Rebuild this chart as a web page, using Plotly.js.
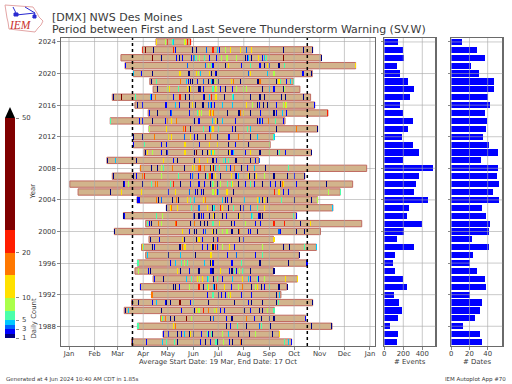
<!DOCTYPE html>
<html><head><meta charset="utf-8">
<script src="https://cdn.plot.ly/plotly-3.0.1.min.js"></script>
<style>html,body{margin:0;padding:0;background:#fff}#c{width:512px;height:384px}</style></head>
<body><div id="c"></div>
<script>
const years=[2024,2023,2022,2021,2020,2019,2018,2017,2016,2015,2014,2013,2012,2011,2010,2009,2008,2007,2006,2005,2004,2003,2002,2001,2000,1999,1998,1997,1996,1995,1994,1993,1992,1991,1990,1989,1988,1987,1986];
const firstDay=[106.5,90,64,69,79,99,103,53.5,81,97,51,98,79,79,92,47,87.5,53.5,2,12,83.5,119,67,94,56,98,89,94,84,81,103,87.5,101,77,68,112,84,115,77];
const lastDay=[148.6,296.5,307,348.6,296,273,281,294,299,315,263,302.6,250,245,295,231,362,287,345,330,302.6,321,277,356,306,249,301,280,290,249,278,265,258,296.5,250,288,320,256,271];
const eventTotals=[144,196,203,133,165,249,312,270,165,196,302,249,186,302,365,196,512,365,333,312,460,260,239,396,207,133,312,112,91,112,196,239,102,154,186,144,60,144,133];
const dateTotals=[12,28,37,22,30,47,47,40,43,37,39,38,35,41,51,33,51,50,53,46,53,34,38,43,41,23,41,24,21,28,37,38,21,34,32,26,13,32,34];
const countEdges=[1,2,3,4,5,7,10,15,20,25,50];
const countColors=['#000080','#0000ff','#0064ff','#00c8ff','#4affaa','#aaff4a','#ffe100','#ff7800','#ff1e00','#800000'];
const monthDays=[1,32,60,91,121,152,182,213,244,274,305,335,366];
const monthNames=['Jan','Feb','Mar','Apr','May','Jun','Jul','Aug','Sep','Oct','Nov','Dec','Jan'];
const yearTicks=[1988,1992,1996,2000,2004,2008,2012,2016,2020,2024];
const countTicks=[1,3,5,10,20,50];
const eventTicks=[0,200,400];
const dateTicks=[0,20,40];
const averageDays=[78,290];
const e2024=[[107,12],[117,8],[120,22],[126,6],[127,4],[140,8],[142,12],[144,22],[148,22]];
const e2023=[[90,22],[93,30],[103,1],[127,22],[129,2],[150,1],[155,1],[167,3],[175,22],[180,4],[183,2],[190,8],[196,12],[208,12],[216,3],[222,12],[261,1],[285,1],[296,1]];
const e2022=[[102,30],[112,1],[131,2],[134,1],[138,2],[149,2],[151,1],[153,4],[155,6],[159,8],[165,6],[171,2],[179,2],[185,8],[192,8],[204,8],[214,1],[217,2],[218,4],[222,1],[230,12],[235,2],[238,4],[240,6],[260,30],[307,1]];
const e2021=[[69,2],[144,3],[166,3],[170,8],[173,6],[175,2],[190,1],[194,12],[210,2],[220,6],[232,2],[237,1],[241,12],[244,2],[255,1],[262,6],[348,12]];
const e2020=[[79,4],[88,2],[102,1],[135,12],[145,1],[147,1],[155,12],[157,8],[160,4],[171,12],[173,1],[178,2],[179,1],[218,3],[221,12],[241,4],[249,8],[284,2],[285,2],[295,1]];
const e2019=[[100,1],[107,6],[136,17],[143,4],[145,2],[148,1],[150,1],[156,2],[164,3],[169,1],[175,1],[178,8],[173,4],[182,1],[197,12],[200,17],[208,1],[229,1],[230,1],[232,17],[252,1],[255,12],[257,6],[264,2],[269,4],[273,6]];
const e2018=[[108,1],[120,8],[122,12],[133,6],[144,12],[147,1],[148,12],[158,1],[160,1],[164,2],[176,6],[179,8],[175,6],[178,12],[184,2],[190,1],[199,2],[204,8],[212,8],[216,8],[235,1],[243,6],[244,4],[249,2],[260,1],[262,8]];
const e2017=[[54,1],[64,30],[81,6],[99,4],[100,2],[105,17],[127,2],[135,22],[142,1],[147,1],[163,2],[165,1],[171,4],[173,22],[178,12],[179,12],[189,1],[199,6],[200,4],[221,1],[231,6],[232,1],[238,1],[258,1],[263,1],[285,1]];
const e2016=[[83,1],[90,2],[118,2],[130,4],[134,2],[146,1],[150,12],[154,1],[162,1],[164,1],[169,3],[172,4],[177,2],[173,2],[187,4],[199,4],[216,12],[223,8],[229,1],[231,2],[236,1],[241,1],[252,2],[260,8],[263,12],[264,8],[298,2]];
const e2015=[[98,2],[108,1],[123,2],[125,3],[146,2],[156,6],[159,12],[161,8],[171,12],[175,17],[172,17],[174,12],[193,1],[206,1],[207,1],[208,17],[212,12],[220,2],[221,1],[233,2],[249,1],[252,2],[259,4],[264,2],[314,22]];
const e2014=[[51,6],[86,2],[90,2],[102,1],[117,2],[120,17],[125,12],[131,17],[152,1],[158,2],[174,4],[178,12],[180,1],[187,4],[202,2],[229,1],[232,2],[233,3],[235,2],[242,17],[251,6],[261,2]];
const e2013=[[98,8],[119,12],[139,17],[142,22],[148,1],[163,6],[171,2],[172,4],[174,12],[176,12],[182,6],[199,2],[202,1],[217,6],[220,2],[221,4],[252,1],[276,17],[302,1]];
const e2012=[[79,1],[90,1],[104,17],[121,12],[125,12],[140,3],[148,12],[153,2],[156,1],[166,1],[172,17],[181,1],[194,2],[195,2],[206,17],[220,1],[221,1],[229,4],[248,6],[250,4]];
const e2011=[[79,2],[92,6],[113,2],[119,2],[141,12],[159,2],[171,12],[180,12],[194,1],[202,2],[218,1],[244,8]];
const e2010=[[93,1],[95,12],[102,8],[113,2],[119,1],[120,2],[141,12],[152,1],[155,30],[162,1],[168,1],[171,12],[176,8],[173,4],[175,12],[177,6],[194,1],[195,12],[198,2],[200,4],[214,2],[220,12],[221,12],[232,1],[243,8],[253,1],[256,6],[263,2],[295,1]];
const e2009=[[47,1],[57,4],[82,1],[115,12],[127,2],[132,1],[152,1],[153,1],[159,12],[168,12],[175,1],[179,2],[174,1],[188,6],[190,4],[194,6],[202,1],[203,1],[220,1],[226,2],[231,3]];
const e2008=[[87,17],[100,1],[108,1],[112,8],[115,6],[126,17],[140,1],[150,12],[152,12],[158,17],[160,22],[165,17],[172,1],[178,4],[176,8],[173,12],[176,30],[183,6],[191,4],[196,2],[201,17],[209,1],[210,1],[217,2],[225,4],[239,1],[266,6]];
const e2007=[[54,1],[79,1],[82,2],[90,17],[92,22],[112,8],[133,6],[148,2],[150,3],[157,2],[166,1],[168,6],[171,17],[174,1],[178,12],[172,17],[173,2],[184,1],[197,12],[202,2],[204,1],[206,4],[218,12],[219,1],[225,1],[228,12],[238,8],[249,1],[265,1],[274,2],[286,1]];
const e2006=[[66,1],[68,2],[72,8],[89,1],[100,6],[105,17],[108,17],[123,6],[127,22],[136,1],[148,2],[158,2],[165,2],[172,1],[180,4],[174,6],[176,8],[180,1],[184,8],[193,6],[198,6],[199,12],[206,1],[214,2],[220,2],[221,6],[225,2],[235,1],[245,2],[251,2],[257,1],[259,17],[260,12],[276,2],[313,1]];
const e2005=[[51,1],[64,12],[88,12],[121,2],[130,12],[146,1],[147,3],[154,2],[156,1],[161,2],[164,1],[175,8],[180,12],[175,8],[178,12],[181,2],[182,4],[192,12],[200,1],[250,22],[255,12],[261,2],[267,2],[315,8],[330,6]];
const e2004=[[84,2],[86,2],[107,17],[109,1],[112,3],[126,1],[131,17],[133,1],[144,12],[148,6],[152,4],[163,12],[166,17],[186,4],[190,1],[193,2],[197,1],[213,4],[229,12],[231,4],[235,1],[238,12],[241,1],[258,6],[274,1],[295,1],[302,8]];
const e2003=[[119,1],[123,12],[125,17],[132,12],[149,6],[158,3],[168,12],[174,1],[177,4],[174,1],[176,6],[184,22],[186,12],[194,1],[200,6],[208,1],[212,2],[220,3],[229,6],[237,12],[320,4]];
const e2002=[[67,1],[68,2],[106,6],[114,8],[151,2],[153,1],[158,1],[161,2],[163,2],[171,1],[177,1],[176,12],[187,1],[191,2],[206,1],[207,12],[222,4],[223,6],[230,2],[232,1],[235,1],[273,6],[276,2]];
const e2001=[[95,6],[98,2],[100,1],[109,17],[113,8],[130,17],[131,22],[148,1],[153,17],[160,1],[165,1],[168,1],[175,6],[183,12],[197,1],[201,2],[214,8],[227,2],[233,2],[249,22],[262,22],[281,1],[293,12]];
const e2000=[[56,1],[110,1],[138,12],[146,2],[152,1],[155,1],[164,2],[166,3],[176,1],[179,1],[174,12],[182,8],[186,8],[192,8],[197,2],[198,1],[206,1],[207,17],[218,2],[220,1],[221,2],[229,1],[255,3],[257,2],[276,1],[286,1]];
const e1999=[[99,1],[110,2],[138,12],[140,1],[155,1],[158,12],[162,2],[176,1],[181,2],[176,1],[182,22],[207,1],[212,2],[249,12]];
const e1998=[[89,12],[91,6],[102,1],[104,2],[135,1],[138,17],[141,12],[162,2],[168,2],[173,12],[175,1],[174,1],[178,22],[180,2],[187,8],[195,12],[201,2],[235,8],[261,1],[268,1],[286,6],[301,4]];
const e1997=[[95,4],[121,1],[136,4],[154,1],[172,12],[173,12],[193,2],[203,6],[204,3],[226,2],[235,6],[280,1]];
const e1996=[[84,6],[124,2],[129,4],[137,6],[140,8],[144,6],[165,4],[172,1],[175,2],[173,12],[198,2],[210,6],[232,1],[266,1],[289,2]];
const e1995=[[85,8],[97,2],[99,1],[132,12],[136,1],[147,2],[158,1],[172,2],[175,1],[173,2],[184,12],[195,2],[198,1],[201,6],[204,2],[207,8],[211,6],[220,1],[249,1]];
const e1994=[[104,2],[115,1],[143,4],[149,6],[156,12],[159,8],[162,12],[168,4],[170,6],[176,1],[181,4],[176,1],[181,6],[186,2],[199,4],[211,12],[218,4],[220,2],[229,6],[230,2],[237,8],[263,12],[278,12]];
const e1993=[[87,2],[127,1],[130,1],[134,2],[147,8],[158,22],[163,1],[168,6],[169,12],[177,1],[179,22],[176,4],[179,22],[189,12],[197,2],[206,8],[211,17],[222,1],[226,8],[229,12],[234,1],[238,2],[244,6],[255,1],[265,1]];
const e1992=[[101,17],[168,2],[175,6],[182,12],[174,6],[182,1],[185,2],[190,2],[194,8],[196,12],[210,2],[222,2],[252,1],[256,4]];
const e1991=[[77,1],[85,1],[102,2],[107,4],[117,2],[119,1],[124,1],[134,1],[135,30],[148,2],[151,6],[169,1],[201,1],[218,2],[222,1],[235,1],[252,1],[254,6],[296,1]];
const e1990=[[69,1],[73,4],[113,1],[137,2],[153,1],[155,12],[158,8],[163,22],[170,17],[177,12],[177,8],[179,12],[184,2],[189,2],[213,1],[221,2],[231,1],[235,1],[241,8],[249,6]];
const e1989=[[112,12],[114,6],[117,17],[124,1],[128,1],[143,30],[149,8],[172,1],[176,3],[191,2],[198,1],[216,17],[225,2],[234,1],[243,1],[249,1],[287,2]];
const e1988=[[84,6],[127,12],[129,17],[191,1],[196,2],[205,6],[216,1],[231,3],[234,6],[245,1],[295,1],[319,1]];
const e1987=[[115,2],[121,2],[132,1],[137,2],[140,4],[146,1],[148,12],[151,1],[161,2],[168,6],[169,2],[174,1],[173,6],[187,8],[194,4],[206,1],[219,1],[227,8],[247,1],[256,12]];
const e1986=[[77,1],[94,2],[114,4],[119,6],[128,6],[132,1],[160,2],[166,1],[172,1],[178,6],[181,1],[172,2],[179,6],[188,8],[195,2],[199,1],[208,17],[210,1],[262,6],[267,4],[270,2]];
const eventLists=[e2024,e2023,e2022,e2021,e2020,e2019,e2018,e2017,e2016,e2015,e2014,e2013,e2012,e2011,e2010,e2009,e2008,e2007,e2006,e2005,e2004,e2003,e2002,e2001,e2000,e1999,e1998,e1997,e1996,e1995,e1994,e1993,e1992,e1991,e1990,e1989,e1988,e1987,e1986];

const W=512,H=384;
const px=v=>v/W, py=v=>1-v/H;
const FONT='DejaVu Sans';
const TXT='#3a3a3a';
function colorFor(c){for(let i=0;i<countColors.length;i++){if(c<countEdges[i+1])return countColors[i];}return countColors[countColors.length-1];}

const tickY=[],tickX=[],tickC=[];
eventLists.forEach((list,i)=>{list.forEach(p=>{tickY.push(years[i]);tickX.push(p[0]);tickC.push(colorFor(p[1]));});});

const traces=[
 {type:'bar',orientation:'h',y:years,base:firstDay,x:lastDay.map((v,i)=>v-firstDay[i]),width:0.8,
  marker:{color:'#d2b48c',line:{color:'#bf6a60',width:1}},xaxis:'x',yaxis:'y',hoverinfo:'skip'},
 {type:'bar',orientation:'h',y:tickY,base:tickX,x:tickX.map(()=>1.3),width:0.72,
  marker:{color:tickC,line:{width:0}},xaxis:'x',yaxis:'y',hoverinfo:'skip'},
 {type:'bar',orientation:'h',y:years,x:eventTotals,width:0.78,marker:{color:'#0000ff',line:{width:0}},xaxis:'x2',yaxis:'y2',hoverinfo:'skip'},
 {type:'bar',orientation:'h',y:years,x:dateTotals,width:0.78,marker:{color:'#0000ff',line:{width:0}},xaxis:'x3',yaxis:'y3',hoverinfo:'skip'},
 {type:'bar',x:countColors.map(()=>0),base:countEdges.slice(0,-1),y:countColors.map((_,i)=>countEdges[i+1]-countEdges[i]),width:1,
  marker:{color:countColors,line:{width:0}},xaxis:'x4',yaxis:'y4',hoverinfo:'skip'},
 {type:'scatter',mode:'lines',x:[-0.5,0,0.5,-0.5],y:[50,52.45,50,50],fill:'toself',fillcolor:'#000',line:{color:'#000',width:0},xaxis:'x4',yaxis:'y4',hoverinfo:'skip'}
];

const GRID='rgba(170,170,170,0.62)';
const SP='#6a6a6a';
const tf={family:FONT,size:6.9,color:TXT};
const domY=[py(346),py(38)];
const yRange=[1985.5,2024.5];
function yAxis(extra){return Object.assign({domain:domY,range:yRange,tickmode:'array',tickvals:yearTicks,ticks:'outside',ticklen:2.5,tickwidth:0.7,tickcolor:'#555',
  showline:true,linecolor:SP,linewidth:1.3,mirror:true,showgrid:false,zeroline:false,tickfont:tf},extra);}
function xAxis(extra){return Object.assign({ticks:'outside',ticklen:2.5,tickwidth:0.7,tickcolor:'#555',showline:true,linecolor:SP,linewidth:1.3,mirror:true,
  showgrid:false,zeroline:false,tickfont:tf,tickmode:'array',ticklabelstandoff:-2},extra);}

const shapes=[];
function vline(xref,v,col,w,dash,ref){shapes.push({type:'line',layer:'above',xref:xref,yref:ref+' domain',x0:v,x1:v,y0:0,y1:1,line:{color:col,width:w,dash:dash||'solid'}});}
function hline(yref,v,col,w,ref){shapes.push({type:'line',layer:'above',yref:yref,xref:ref+' domain',x0:0,x1:1,y0:v,y1:v,line:{color:col,width:w}});}
monthDays.forEach(d=>vline('x',d,GRID,1,'solid','y'));
averageDays.forEach(d=>vline('x',d,'#000',1.5,'dot','y'));
eventTicks.forEach(v=>vline('x2',v,GRID,1,'solid','y2'));
dateTicks.forEach(v=>vline('x3',v,GRID,1,'solid','y3'));
yearTicks.forEach(v=>{hline('y2',v,GRID,1,'x2');hline('y3',v,GRID,1,'x3');});

function pathFrom(pts,close){return pts.map((p,i)=>(i?'L':'M')+px(p[0])+' '+py(p[1])).join(' ')+(close?' Z':'');}
function logoPath(pts,col,w,fill){shapes.push({type:'path',xref:'paper',yref:'paper',layer:'above',path:pathFrom(pts,!!fill),line:{color:col,width:w},fillcolor:fill||'rgba(0,0,0,0)'});}
logoPath([[5,5],[33,7],[37,13],[39,17],[43,21],[41,25],[38,28],[35,32],[9,29],[8,22],[7,18]],'#e3a5a5',1,'rgba(255,255,255,1)');
logoPath([[16,15],[35,13]],'#2a2ad0',1.2);
logoPath([[13,7],[17,15]],'#2a2ad0',1);
logoPath([[25,7],[35,13]],'#2a2ad0',1);
logoPath([[35,13],[33,18]],'#2a2ad0',1);
logoPath([[14,13],[18,13],[18,16],[14,16]],'#2a2ad0',1,'#2a2ad0');
logoPath([[33,15],[36,15],[36,18],[33,18]],'#2a2ad0',1,'#2a2ad0');

function note(text,x,y,size,anchor,extra){return Object.assign({xref:'paper',yref:'paper',x:px(x),y:py(y),text:text,showarrow:false,xanchor:anchor||'left',yanchor:'middle',
  font:{family:FONT,size:size,color:TXT},borderpad:0},extra||{});}
const annotations=[
 note('[DMX] NWS Des Moines',51,17.5,11,'left'),
 note('Period between First and Last Severe Thunderstorm Warning (SV.W)',51,29.5,11,'left'),
 note('Average Start Date: 19 Mar, End Date: 17 Oct',217.5,361.5,6.9,'center'),
 note('# Events',410,361.5,6.9,'center'),
 note('# Dates',476.5,361.5,6.9,'center'),
 note('Year',32,191.5,6.9,'center',{textangle:-90}),
 note('Daily Count',33,318.5,6.9,'center',{textangle:-90}),
 note('Generated at 4 Jun 2024 10:40 AM CDT in 1.85s',5,379.5,5.5,'left'),
 note('IEM Autoplot App #70',507,379.5,5.5,'right'),
 note('<i>IEM</i>',20,24.5,11,'center',{font:{family:'Liberation Serif',size:11.5,color:'#c9302c'}})
];

const layout={width:W,height:H,margin:{l:0,r:0,t:0,b:0},paper_bgcolor:'#fff',plot_bgcolor:'#fff',showlegend:false,barmode:'overlay',
 bargap:0,
 xaxis:xAxis({domain:[px(61),px(374.5)],range:[-8.7,371.5],tickvals:monthDays,ticktext:monthNames,anchor:'y'}),
 yaxis:yAxis({anchor:'x',tickvals:yearTicks,ticktext:yearTicks.map(String),showgrid:true,gridcolor:'#ccc',gridwidth:1,tickformat:'d'}),
 xaxis2:xAxis({domain:[px(384.3),px(435.3)],range:[0,537],tickvals:eventTicks,anchor:'y2'}),
 yaxis2:yAxis({anchor:'x2',showticklabels:false}),
 xaxis3:xAxis({domain:[px(451.3),px(502.3)],range:[0,56.1],tickvals:dateTicks,anchor:'y3'}),
 yaxis3:yAxis({anchor:'x3',showticklabels:false}),
 xaxis4:{domain:[px(5),px(15)],range:[-0.5,0.5],visible:false,anchor:'y4',fixedrange:true},
 yaxis4:{domain:[py(338),py(107)],range:[1,52.45],side:'right',anchor:'x4',tickmode:'array',tickvals:countTicks,ticks:'outside',ticklen:2.5,tickwidth:0.7,tickcolor:'#555',
   showline:false,showgrid:false,zeroline:false,tickfont:tf,ticklabelstandoff:2},
 shapes:shapes,annotations:annotations
};
Plotly.newPlot('c',traces,layout,{staticPlot:true,displayModeBar:false});
</script></body></html>
